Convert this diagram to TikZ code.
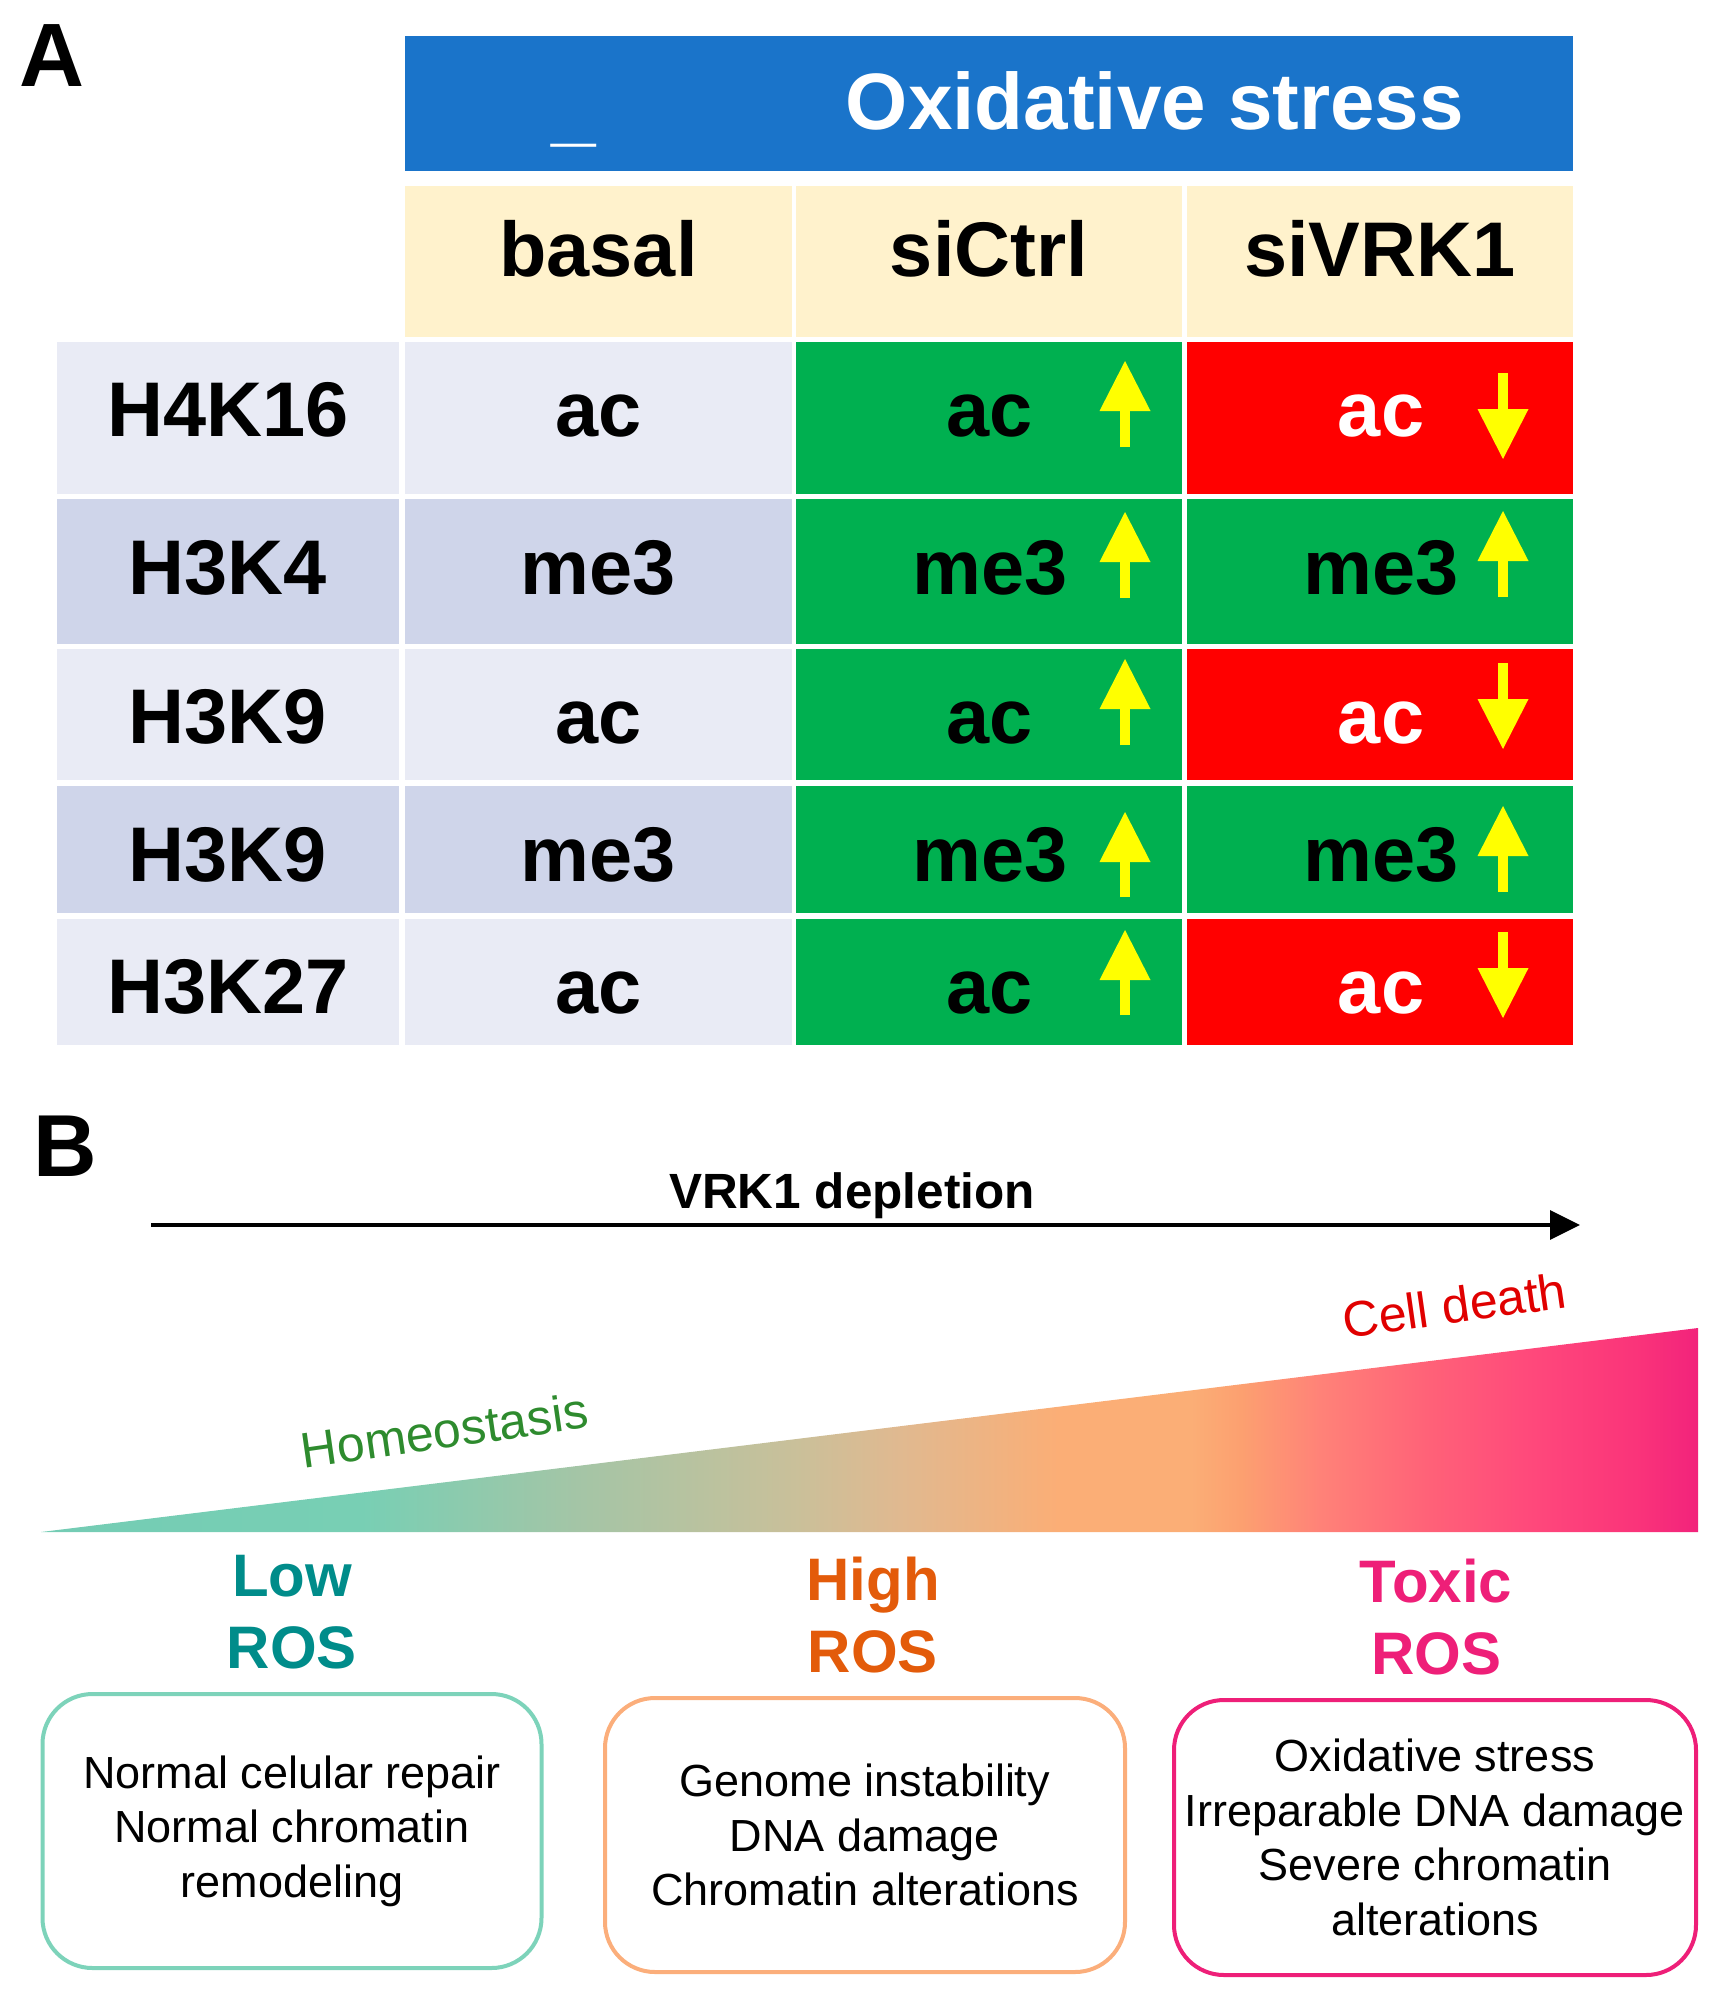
\documentclass[tikz,border=0pt]{standalone}
\usepackage{fontspec}
\setmainfont{Liberation Sans}
\usetikzlibrary{arrows.meta}

\definecolor{hdrblue}{HTML}{1A74CA}
\definecolor{hdrcream}{HTML}{FFF2CC}
\definecolor{rowlight}{HTML}{E9EBF5}
\definecolor{rowdark}{HTML}{CFD5EA}
\definecolor{upgreen}{HTML}{00B050}
\definecolor{downred}{HTML}{FF0000}
\definecolor{arryellow}{HTML}{FFFF00}
\definecolor{lowteal}{HTML}{008C8A}
\definecolor{highorange}{HTML}{E35B0A}
\definecolor{toxicpink}{HTML}{EE1F78}
\definecolor{boxteal}{HTML}{7DD3BA}
\definecolor{boxorange}{HTML}{FBAE7B}
\definecolor{homeogreen}{HTML}{2E8B2E}
\definecolor{deathred}{HTML}{E00000}
\definecolor{grad0}{HTML}{74CCB4}
\definecolor{grad1}{HTML}{78CFB4}
\definecolor{grad2}{HTML}{A4C5A6}
\definecolor{grad3}{HTML}{C9C09A}
\definecolor{grad4}{HTML}{E0B990}
\definecolor{grad5}{HTML}{FBAE76}
\definecolor{grad6}{HTML}{FCA070}
\definecolor{grad7}{HTML}{FF8278}
\definecolor{grad8}{HTML}{FF6278}
\definecolor{grad9}{HTML}{FF497B}
\definecolor{grad10}{HTML}{FA347A}
\definecolor{grad11}{HTML}{F2237B}

\pgfdeclarehorizontalshading{rosgrad}{100bp}{color(0bp)=(grad0); color(25bp)=(grad0);
  color(34.7bp)=(grad1); color(41.2bp)=(grad2); color(47.7bp)=(grad3); color(50.9bp)=(grad4);
  color(55.7bp)=(grad5); color(59.7bp)=(grad5); color(61.2bp)=(grad6); color(63.6bp)=(grad7);
  color(66.8bp)=(grad8); color(69.9bp)=(grad9); color(73.1bp)=(grad10); color(75bp)=(grad11);
  color(100bp)=(grad11)}

\tikzset{
  panel/.style={font=\fontsize{90}{100}\selectfont\bfseries, anchor=base west, inner sep=0pt},
  tbl/.style={font=\fontsize{77.5}{90}\selectfont\bfseries, anchor=base, inner sep=0pt},
  uparr/.style={draw=arryellow, line width=10pt, -{Triangle[length=50pt,width=51pt,line width=0pt,color=arryellow]}},
  ros/.style={font=\fontsize{60}{72}\selectfont\bfseries, align=center, inner sep=0pt},
  slanted/.style={font=\fontsize{50}{60}\selectfont, anchor=base, inner sep=0pt},
  rosbox/.style={draw, line width=4pt, rounded corners=50pt, align=center, inner sep=0pt,
    font=\fontsize{45}{54.5}\selectfont}
}

\begin{document}
\begin{tikzpicture}[x=1pt,y=-1pt]
\useasboundingbox (0,0) rectangle (1728,2008);

% panel A: table
\node[panel] (panelA) at (19,86) {A};
\fill[hdrblue] (405,36) rectangle (1573,171);
\node[tbl, white, font=\fontsize{80}{90}\selectfont\bfseries] (nostress) at (574,137) {\_};
\node[tbl, white, font=\fontsize{80}{90}\selectfont\bfseries] (oxstress) at (1155,129) {Oxidative stress};
\fill[hdrcream] (405,186) rectangle (792,337);
\fill[hdrcream] (796,186) rectangle (1182,337);
\fill[hdrcream] (1187,186) rectangle (1573,337);
\node[tbl] (basal) at (598.5,276) {basal};
\node[tbl] (sictrl) at (989,276) {siCtrl};
\node[tbl] (sivrk) at (1380,276) {siVRK1};

% row backgrounds
\fill[rowlight] (57,342) rectangle (399,494);  \fill[rowlight] (405,342) rectangle (792,494);
\fill[rowdark] (57,499) rectangle (399,644);   \fill[rowdark] (405,499) rectangle (792,644);
\fill[rowlight] (57,649) rectangle (399,780);  \fill[rowlight] (405,649) rectangle (792,780);
\fill[rowdark] (57,786) rectangle (399,913);   \fill[rowdark] (405,786) rectangle (792,913);
\fill[rowlight] (57,919) rectangle (399,1045); \fill[rowlight] (405,919) rectangle (792,1045);
\fill[upgreen] (796,342) rectangle (1182,494); \fill[downred] (1187,342) rectangle (1573,494);
\fill[upgreen] (796,499) rectangle (1182,644); \fill[upgreen] (1187,499) rectangle (1573,644);
\fill[upgreen] (796,649) rectangle (1182,780); \fill[downred] (1187,649) rectangle (1573,780);
\fill[upgreen] (796,786) rectangle (1182,913); \fill[upgreen] (1187,786) rectangle (1573,913);
\fill[upgreen] (796,919) rectangle (1182,1045); \fill[downred] (1187,919) rectangle (1573,1045);

% row texts
\node[tbl] (h4k16) at (228,436) {H4K16};
\node[tbl] (h4k16b) at (598.5,436) {ac};
\node[tbl] (h4k16c) at (990,436) {ac};
\node[tbl, white] (h4k16v) at (1381,436) {ac};
\node[tbl] (h3k4) at (228,594) {H3K4};
\node[tbl] (h3k4b) at (598.5,594) {me3};
\node[tbl] (h3k4c) at (990,594) {me3};
\node[tbl] (h3k4v) at (1381,594) {me3};
\node[tbl] (h3k9ac) at (228,743) {H3K9};
\node[tbl] (h3k9acb) at (598.5,743) {ac};
\node[tbl] (h3k9acc) at (990,743) {ac};
\node[tbl, white] (h3k9acv) at (1381,743) {ac};
\node[tbl] (h3k9me) at (228,881) {H3K9};
\node[tbl] (h3k9meb) at (598.5,881) {me3};
\node[tbl] (h3k9mec) at (990,881) {me3};
\node[tbl] (h3k9mev) at (1381,881) {me3};
\node[tbl] (h3k27) at (228,1013) {H3K27};
\node[tbl] (h3k27b) at (598.5,1013) {ac};
\node[tbl] (h3k27c) at (990,1013) {ac};
\node[tbl, white] (h3k27v) at (1381,1013) {ac};

% yellow arrows
\draw[uparr] (1125,447) -- (1125,361);
\draw[uparr] (1503,373) -- (1503,459);
\draw[uparr] (1125,598) -- (1125,512);
\draw[uparr] (1503,597) -- (1503,511);
\draw[uparr] (1125,745) -- (1125,659);
\draw[uparr] (1503,663) -- (1503,749);
\draw[uparr] (1125,897) -- (1125,812);
\draw[uparr] (1503,892) -- (1503,806);
\draw[uparr] (1125,1015) -- (1125,930);
\draw[uparr] (1503,932) -- (1503,1018);

% panel B: gradient
\node[panel, font=\fontsize{88}{100}\selectfont\bfseries] (panelB) at (33,1176) {B};
\node[tbl, font=\fontsize{49.5}{60}\selectfont\bfseries] (depletion) at (852,1208) {VRK1 depletion};
\coordinate (depstart) at (151,1225);
\coordinate (depend) at (1580,1225);
\draw[line width=3.5pt, -{Triangle[length=30pt,width=29pt]}] (depstart) -- (depend);
\shade[shading=rosgrad] (41,1532) -- (1698,1532) -- (1698,1328) -- cycle;
\node[slanted, homeogreen, rotate=8.2] (homeo) at (447,1448) {Homeostasis};
\node[slanted, deathred, rotate=8.1] (death) at (1457,1323) {Cell death};

\node[ros, lowteal] (lowros) at (292,1612.5) {Low\\ROS};
\node[ros, highorange] (highros) at (873,1615.5) {High\\ROS};
\node[ros, toxicpink] (toxicros) at (1436,1617.5) {Toxic\\ROS};

\node[rosbox, boxteal, minimum width=499pt, minimum height=274pt, text=black] (lowbox) at (292,1831)
  {Normal celular repair\\Normal chromatin\\remodeling};
\node[rosbox, boxorange, minimum width=520pt, minimum height=274pt, text=black] (highbox) at (865,1835)
  {Genome instability\\DNA damage\\Chromatin alterations};
\node[rosbox, toxicpink, minimum width=522pt, minimum height=275pt, text=black] (toxicbox) at (1435,1837.5)
  {Oxidative stress\\Irreparable DNA damage\\Severe chromatin\\alterations};
\end{tikzpicture}
\end{document}
